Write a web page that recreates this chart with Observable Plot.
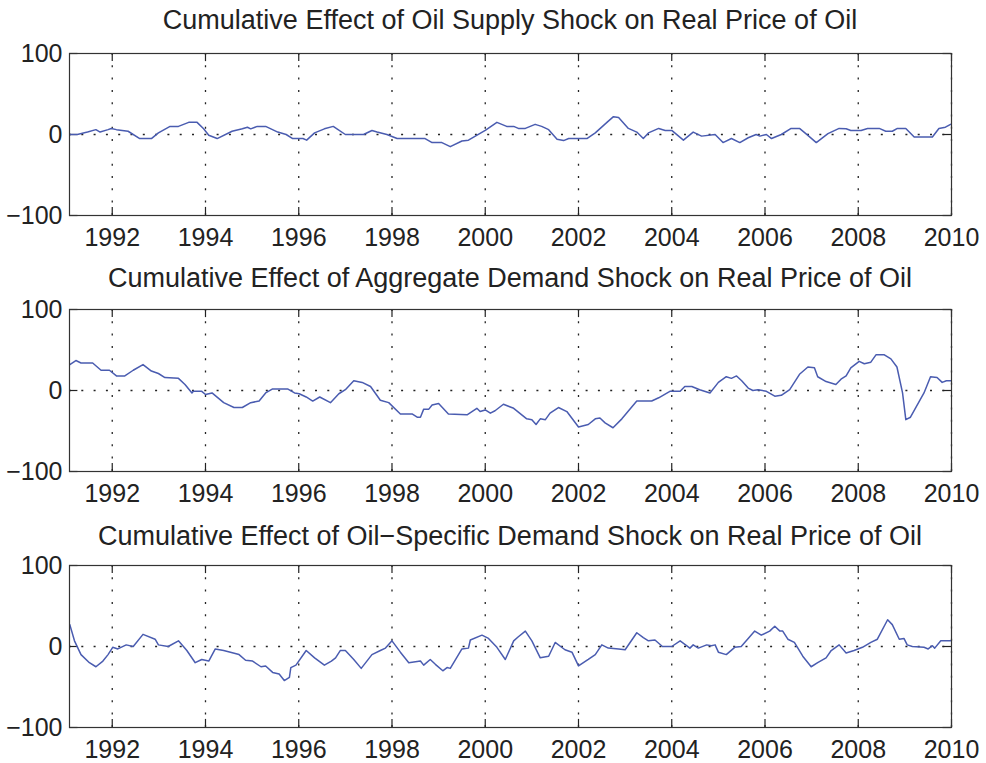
<!DOCTYPE html>
<html>
<head>
<meta charset="utf-8">
<script src="https://cdn.jsdelivr.net/npm/d3@7"></script>
<script src="https://cdn.jsdelivr.net/npm/@observablehq/plot@0.6"></script>
<style>
  html, body { margin: 0; padding: 0; background: #fff; }
  #root { position: relative; width: 986px; height: 763px; overflow: hidden; font-family: "Liberation Sans", Arial, sans-serif; }
  .title { position: absolute; left: 60px; width: 900px; text-align: center; font-size: 27px; line-height: 27px; color: #222; white-space: nowrap; }
  .panel { position: absolute; left: 0; }
</style>
</head>
<body>
<div id="root"></div>
<script>
const titles = [
  "Cumulative Effect of Oil Supply Shock on Real Price of Oil",
  "Cumulative Effect of Aggregate Demand Shock on Real Price of Oil",
  "Cumulative Effect of Oil\u2212Specific Demand Shock on Real Price of Oil"
];
const xTicks = [1992, 1994, 1996, 1998, 2000, 2002, 2004, 2006, 2008, 2010];
const yTicks = [-100, 0, 100];
const xDomain = [1991.0833, 2010];
const yDomain = [-100, 100];

// Panel 1: Oil supply shock
const supplyT = [1991.09,1991.25,1991.47,1991.65,1991.74,1991.91,1991.98,1992.09,1992.34,1992.59,1992.84,1992.99,1993.24,1993.42,1993.64,1993.82,1993.96,1994.07,1994.25,1994.57,1994.79,1994.90,1994.97,1995.11,1995.29,1995.55,1995.73,1995.87,1996.09,1996.17,1996.34,1996.55,1996.74,1996.82,1997.0,1997.39,1997.57,1997.68,1997.89,1998.11,1998.71,1998.86,1999.07,1999.25,1999.5,1999.64,2000.0,2000.25,2000.46,2000.61,2000.71,2000.86,2001.07,2001.21,2001.36,2001.54,2001.68,2001.79,2002.18,2002.36,2002.61,2002.75,2002.86,2003.07,2003.25,2003.39,2003.5,2003.72,2003.86,2004.0,2004.25,2004.46,2004.64,2004.93,2005.1,2005.28,2005.46,2005.64,2005.81,2005.89,2006.03,2006.14,2006.35,2006.56,2006.74,2006.92,2007.1,2007.35,2007.59,2007.74,2007.84,2008.06,2008.2,2008.45,2008.59,2008.73,2008.84,2009.02,2009.2,2009.59,2009.73,2009.87,2009.98];
const supplyV = [0,0,3,6,3,6,7.5,6,4,-5,-5,2,10,10,15,15,7,-1,-5,4,7,9,7,10,10,3,0,-5,-5,-7,2,7,10,7,0,0,5,3,0,-5,-5,-10,-10,-15,-8,-7,5,15,10,10,7.5,7.5,12.5,10,6,-6,-7.5,-5,-5,2,15,22,21,7.5,3,-5,2,7.5,5,5,-7,3,-2,0,-10,-5,-10,-4,0,-2,0,-5,0,7.5,7.5,-1,-10,1,7.5,7,5,5,7.5,7.5,4,4,7.5,7.5,-3,-3,7.5,9,12.5];

// Panel 2: Aggregate demand shock
const demandT = [1991.09,1991.22,1991.33,1991.58,1991.76,1991.94,1992.09,1992.27,1992.45,1992.66,1992.84,1992.99,1993.13,1993.42,1993.56,1993.71,1993.74,1993.92,1994.0,1994.14,1994.39,1994.61,1994.79,1994.97,1995.15,1995.29,1995.44,1995.76,1995.91,1996.01,1996.16,1996.3,1996.45,1996.68,1996.86,1997.0,1997.18,1997.36,1997.54,1997.75,1997.93,1998.18,1998.43,1998.54,1998.61,1998.68,1998.79,1998.86,1999.0,1999.21,1999.61,1999.82,1999.89,2000.0,2000.11,2000.21,2000.39,2000.61,2000.89,2001.0,2001.09,2001.18,2001.29,2001.39,2001.57,2001.75,2002.0,2002.21,2002.36,2002.46,2002.57,2002.74,2002.93,2003.25,2003.57,2003.72,2003.96,2004.18,2004.28,2004.43,2004.6,2004.82,2005.0,2005.17,2005.28,2005.39,2005.5,2005.64,2005.74,2005.85,2006.03,2006.21,2006.35,2006.53,2006.74,2006.92,2007.06,2007.13,2007.31,2007.52,2007.63,2007.74,2007.84,2008.02,2008.13,2008.27,2008.38,2008.56,2008.7,2008.83,2008.95,2009.02,2009.12,2009.41,2009.55,2009.69,2009.8,2009.89,2009.99];
const demandV = [32,37,34,34,25,25,18,18,25,32,24,21,16,15,7.5,-3,-1,-1,-5,-3,-15,-21,-21,-15,-13,-3,2,2,-3,-4,-8,-13,-8,-15,-4,1,12,10,5,-12,-15,-29,-29,-33,-33,-23,-23,-18,-16,-29,-30,-22,-26,-24,-28,-25,-17,-22,-35,-36,-42,-35,-36,-28,-21,-26,-45,-42,-35,-34,-40,-46,-35,-13,-13,-9,-1,-1,5,5,1,-3,10,17,15,18,12,3,0,1,-1,-7,-6,1,20,29,28,17,11,7.5,14,18,28,36,33,35,44,44,39,29,-3,-36,-33,-3,17,16,10,12,12];

// Panel 3: Oil-specific demand shock
const specificT = [1991.09,1991.19,1991.33,1991.51,1991.65,1991.8,1991.91,1992.01,1992.12,1992.3,1992.45,1992.66,1992.92,1992.99,1993.2,1993.42,1993.6,1993.78,1993.92,1994.07,1994.21,1994.39,1994.72,1994.86,1995.01,1995.19,1995.29,1995.44,1995.58,1995.69,1995.8,1995.83,1995.94,1996.16,1996.34,1996.55,1996.7,1996.79,1996.89,1997.0,1997.18,1997.34,1997.57,1997.75,1997.86,1998.0,1998.18,1998.36,1998.61,1998.68,1998.82,1998.93,1999.09,1999.18,1999.25,1999.5,1999.64,1999.68,1999.93,2000.07,2000.25,2000.43,2000.61,2000.71,2000.86,2001.0,2001.18,2001.36,2001.5,2001.71,2001.86,2002.0,2002.21,2002.36,2002.5,2002.64,2002.86,2003.0,2003.25,2003.39,2003.5,2003.64,2003.8,2004.0,2004.18,2004.39,2004.46,2004.57,2004.75,2004.85,2004.93,2005.0,2005.17,2005.35,2005.49,2005.78,2005.92,2006.1,2006.21,2006.32,2006.38,2006.49,2006.63,2006.81,2006.99,2007.13,2007.31,2007.42,2007.59,2007.74,2007.91,2008.09,2008.27,2008.41,2008.63,2008.73,2008.88,2008.98,2009.05,2009.16,2009.41,2009.5,2009.59,2009.64,2009.77,2009.98];
const specificV = [27,7,-10,-20,-25,-18,-10,-1,-3,2,0,15,9,2,0,7,-5,-20,-16,-18,-3,-5,-10,-17,-18,-25,-24,-32,-34,-42,-38,-26,-23,-5,-14,-23,-18,-14,-5,-5,-16,-27,-10,-5,-2,7,-7,-20,-18,-23,-16,-22,-30,-26,-27,-3,-2,8,14,10,-1,-16,7,12,19,7,-14,-12,5,-4,-7,-24,-16,-10,2,-2,-3,-4,17,11,7,8,0,0,7,-2,2,-2,2,1,2,-7,-10,-1,0,19,14,19,25,19,19,9,5,-12,-25,-20,-14,-5,2,-8,-5,-1,5,9,33,27,9,10,2,0,-1,-3,1,-2,7,7];

const series = [[supplyT, supplyV], [demandT, demandV], [specificT, specificV]];
const frameTops = [53, 309, 565];
const titleTops = [7, 265, 523];

const root = document.getElementById("root");
const ink = "#222";
const lineColor = "#4a5cb0";
const tickLenX = 0.18; // years (~8px)
const tickLenY = 10;   // units (~8px)

series.forEach(([T, V], i) => {
  const data = T.map((t, k) => ({t, v: V[k]}));
  const title = document.createElement("div");
  title.className = "title";
  title.style.top = titleTops[i] + "px";
  title.textContent = titles[i];
  root.appendChild(title);

  const chart = Plot.plot({
    width: 986,
    height: 212,
    marginLeft: 69,
    marginRight: 35,
    marginTop: 10,
    marginBottom: 40,
    x: {domain: xDomain, label: null},
    y: {domain: yDomain, label: null},
    style: {fontFamily: "'Liberation Sans', Arial, sans-serif", fontSize: "25px", color: ink, background: "transparent", overflow: "visible"},
    marks: [
      Plot.ruleX(xTicks, {x: d => d, stroke: ink, strokeWidth: 1.3, strokeDasharray: "2,10.3"}),
      Plot.ruleY([0], {y: d => d, stroke: ink, strokeWidth: 1.3, strokeDasharray: "2,10.3"}),
      Plot.ruleX(xTicks, {x: d => d, y1: yDomain[0], y2: yDomain[0] + tickLenY, stroke: ink, strokeWidth: 1.2}),
      Plot.ruleX(xTicks, {x: d => d, y1: yDomain[1], y2: yDomain[1] - tickLenY, stroke: ink, strokeWidth: 1.2}),
      Plot.ruleY(yTicks, {y: d => d, x1: xDomain[0], x2: xDomain[0] + tickLenX, stroke: ink, strokeWidth: 1.2}),
      Plot.ruleY(yTicks, {y: d => d, x1: xDomain[1], x2: xDomain[1] - tickLenX, stroke: ink, strokeWidth: 1.2}),
      Plot.line(data, {x: "t", y: "v", stroke: lineColor, strokeWidth: 1.5}),
      Plot.frame({stroke: "#333", strokeWidth: 1.2}),
      Plot.axisX({ticks: xTicks, tickSize: 0, tickPadding: 13, tickFormat: d => String(d), fill: ink, label: null}),
      Plot.axisY({ticks: yTicks, tickSize: 0, tickPadding: 7, tickFormat: d => d < 0 ? "\u2212" + Math.abs(d) : String(d), fill: ink, label: null})
    ]
  });
  const wrap = document.createElement("div");
  wrap.className = "panel";
  wrap.style.top = (frameTops[i] - 10) + "px";
  wrap.appendChild(chart);
  root.appendChild(wrap);
});
</script>
</body>
</html>
